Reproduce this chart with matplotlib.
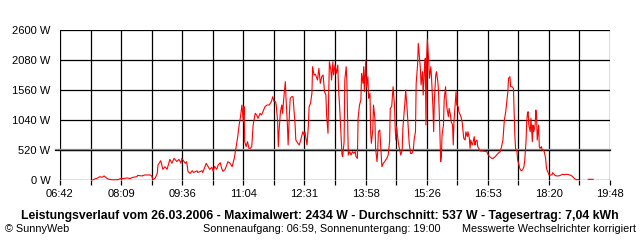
import numpy as np
import matplotlib
matplotlib.use("Agg")
import matplotlib.pyplot as plt

plt.rcParams['font.family'] = ['Liberation Sans', 'DejaVu Sans']

# time of day in minutes since midnight, power in W
minutes = [449, 452, 455, 459, 462, 465, 469, 471, 476, 485, 488, 492, 498, 502, 506, 512, 513, 519, 523, 531,
           533, 535, 538, 541, 542, 546, 549, 552, 555, 559, 562, 565, 569, 572, 575, 576, 581, 583, 585, 588,
           591, 593, 598, 599, 605, 606, 611, 613, 616, 619, 621, 623, 626, 628, 631, 633, 635, 638, 642, 645,
           648, 651, 653, 656, 658, 660, 662, 664, 665, 666, 668, 670, 672, 674, 676, 678, 681, 683, 685, 688,
           690, 693, 695, 698, 701, 704, 706, 708, 710, 711, 713, 714, 715, 717, 719, 720, 722, 724, 725, 727,
           728, 730, 731, 733, 735, 738, 739, 742, 744, 746, 749, 751, 752, 755, 757, 758, 760, 762, 763, 765,
           767, 770, 772, 774, 776, 778, 780, 782, 783, 785, 786, 787, 789, 790, 792, 793, 795, 797, 799, 800,
           802, 804, 805, 806, 808, 809, 811, 812, 813, 814, 816, 818, 820, 822, 824, 825, 827, 828, 830, 832,
           833, 835, 836, 837, 839, 840, 842, 843, 845, 846, 847, 849, 850, 852, 853, 855, 856, 857, 859, 862,
           864, 866, 869, 871, 873, 874, 876, 877, 878, 880, 881, 882, 883, 885, 886, 888, 889, 891, 892, 894,
           895, 896, 898, 900, 901, 903, 905, 907, 908, 910, 911, 913, 914, 915, 917, 918, 920, 921, 923, 924,
           925, 926, 927, 929, 930, 932, 933, 935, 936, 937, 939, 940, 942, 943, 945, 946, 947, 948, 950, 951,
           953, 954, 955, 957, 958, 960, 961, 963, 964, 965, 968, 969, 971, 972, 974, 975, 977, 978, 979, 981,
           982, 984, 985, 987, 988, 989, 991, 992, 994, 995, 996, 998, 999, 1001, 1002, 1006, 1012, 1014, 1016, 1019,
           1021, 1024, 1026, 1028, 1031, 1033, 1035, 1036, 1037, 1039, 1040, 1042, 1043, 1045, 1046, 1048, 1050, 1051, 1052, 1053,
           1055, 1056, 1058, 1059, 1061, 1063, 1065, 1066, 1068, 1069, 1070, 1071, 1072, 1074, 1075, 1077, 1078, 1079, 1081, 1082,
           1083, 1084, 1086, 1087, 1088, 1090, 1091, 1093, 1094, 1096, 1097, 1098, 1100, 1101, 1105, 1106, 1108, 1110, 1113, 1116,
           1118, 1120, 1123, 1125, 1127, 1129, 1132, 1134, 1136, 1138, 1140, 1143, 1150, 1157, 1164]

power_w = [0, 20, 30, 58, 45, 70, 30, 15, 5, 5, 23, 25, 35, 25, 46, 58, 81, 70, 87, 87,
           70, 10, 30, 115, 260, 335, 185, 230, 185, 358, 290, 375, 320, 358, 290, 375, 290, 318, 144, 115,
           160, 130, 160, 130, 160, 130, 289, 245, 185, 220, 150, 235, 185, 260, 300, 200, 150, 185, 318, 290,
           231, 375, 520, 751, 953, 1098, 1300, 1011, 1271, 664, 578, 664, 549, 549, 578, 953, 1156, 1127, 1069, 1156,
           1127, 1213, 1271, 1300, 1300, 1357, 1444, 1357, 1357, 1300, 1011, 578, 837, 1184, 1300, 1156, 1444, 1704, 1415, 953,
           607, 1184, 1415, 1444, 1444, 953, 693, 635, 607, 693, 837, 780, 837, 607, 953, 1271, 1329, 1502, 1964, 1820,
           1832, 1733, 1935, 1675, 1791, 1820, 1531, 1473, 1127, 809, 1502, 2050, 1906, 1733, 2050, 1820, 1993, 1849, 1993, 1589,
           1184, 693, 433, 404, 664, 1733, 1964, 1704, 1040, 433, 491, 433, 491, 462, 491, 404, 375, 1069, 1300, 1387,
           1849, 1675, 1964, 1531, 2080, 1617, 1791, 1416, 1502, 809, 636, 867, 1300, 1069, 549, 318, 491, 837, 867, 231,
           289, 318, 375, 433, 664, 1242, 1271, 1444, 1617, 1300, 896, 693, 924, 693, 607, 491, 433, 520, 896, 1213,
           1358, 1560, 1242, 838, 636, 462, 462, 520, 693, 838, 1675, 1993, 2369, 2225, 1935, 1647, 1878, 1473, 1964, 2109,
           953, 2138, 2434, 2051, 1762, 1964, 1762, 1242, 838, 1387, 1820, 1878, 1704, 1531, 780, 318, 404, 780, 953, 1387,
           1617, 1358, 1242, 1098, 1242, 1127, 1011, 953, 607, 1011, 1531, 1300, 1271, 1184, 1127, 1098, 982, 837, 722, 693,
           837, 751, 837, 722, 549, 693, 607, 636, 751, 607, 664, 693, 578, 537, 503, 503, 491, 433, 404, 375,
           375, 404, 433, 462, 491, 578, 693, 867, 1040, 1184, 1300, 1531, 1762, 1791, 1618, 1618, 1589, 1184, 780, 549,
           491, 346, 260, 202, 162, 173, 231, 318, 664, 1011, 1156, 1184, 953, 838, 1069, 664, 953, 838, 953, 1213,
           1127, 693, 953, 578, 549, 578, 520, 520, 491, 375, 231, 173, 115, 87, 87, 127, 98, 75, 69, 75,
           87, 98, 92, 98, 98, 92, 81, 64, 40, 17, 6, 6, None, 12, 12]

tick_labels = ["06:42", "08:09", "09:36", "11:04", "12:31", "13:58", "15:26", "16:53", "18:20", "19:48"]
y_ticks = [0, 520, 1040, 1560, 2080, 2600]
average_w = 537

title = "Leistungsverlauf vom 26.03.2006 - Maximalwert: 2434 W - Durchschnitt: 537 W - Tagesertrag: 7,04 kWh"
left_note = "\u00a9 SunnyWeb"
mid_note = "Sonnenaufgang: 06:59, Sonnenuntergang: 19:00"
right_note = "Messwerte Wechselrichter korrigiert"


def to_min(s):
    h, m = s.split(":")
    return int(h) * 60 + int(m)


major = [to_min(s) for s in tick_labels]
x0, x1 = major[0], major[-1]
n_int = 2 * (len(major) - 1)
grid_x = [x0 + (x1 - x0) * i / n_int for i in range(n_int + 1)]

y = np.array([np.nan if v is None else v for v in power_w], dtype=float)
x = np.array(minutes, dtype=float)

fig = plt.figure(figsize=(6.4, 2.4), dpi=100)
ax = fig.add_axes([60 / 640, 1 - 180 / 240, 550 / 640, 150 / 240])
ax.set_xlim(x0, x1)
ax.set_ylim(0, 2600)

for gx in grid_x:
    ax.axvline(gx, color='black', lw=0.9, zorder=1)
for gy in y_ticks:
    ax.axhline(gy, color='black', lw=0.9, zorder=1)
ax.axhline(520, xmin=-5 / 550, xmax=1, color='black', lw=0.9, zorder=1, clip_on=False)
ax.axhline(average_w, xmin=-5 / 550, xmax=1, color='#888888', lw=0.9, zorder=1.5, clip_on=False)

ax.plot(x, y, color='#ff0000', lw=0.8, zorder=3, clip_on=False)

for s in ax.spines.values():
    s.set_visible(False)

ax.set_xticks(grid_x)
lab = []
for i in range(len(grid_x)):
    lab.append(tick_labels[i // 2] if i % 2 == 0 else "")
ax.set_xticklabels(lab)
ax.tick_params(axis='x', length=3.6, width=0.9, color='black', pad=3, labelsize=8)
ax.set_yticks(y_ticks)
ax.set_yticklabels([f"{v} W" for v in y_ticks])
ax.tick_params(axis='y', length=0, pad=7, labelsize=8)

fig.text(320 / 640, 1 - 216 / 240, title, ha='center', va='center', fontsize=8.8, fontweight='bold')
fig.text(5 / 640, 1 - 229 / 240, left_note, ha='left', va='center', fontsize=7.8)
fig.text(203 / 640, 1 - 229 / 240, mid_note, ha='left', va='center', fontsize=7.8)
fig.text(636 / 640, 1 - 229 / 240, right_note, ha='right', va='center', fontsize=7.8)

fig.savefig("out.png", dpi=100, facecolor='white')
